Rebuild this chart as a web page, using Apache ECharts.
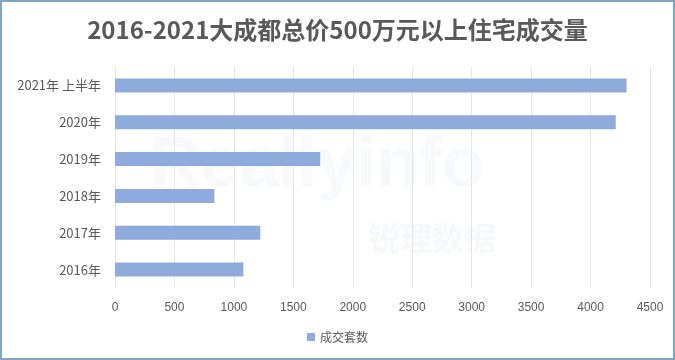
<!DOCTYPE html>
<html><head><meta charset="utf-8">
<script src="https://cdn.jsdelivr.net/npm/echarts@6/dist/echarts.min.js"></script>
<style>html,body{margin:0;padding:0;background:#fff}#c{width:675px;height:360px}</style>
</head><body><div id="c"></div>
<script>
const titleText = '2016-2021大成都总价500万元以上住宅成交量';
const categories = ['2016年', '2017年', '2018年', '2019年', '2020年', '2021年 上半年'];
const seriesName = '成交套数';
const values = [1080, 1222, 836, 1727, 4212, 4303];
const xTicks = [0, 500, 1000, 1500, 2000, 2500, 3000, 3500, 4000, 4500];

const chart = echarts.init(document.getElementById('c'));
const font = '"Microsoft YaHei","Noto Sans CJK SC",sans-serif';
chart.setOption({
  backgroundColor: '#fff',
  animation: false,
  title: {
    text: titleText, left: 'center', top: 13,
    textStyle: { color: '#595959', fontSize: 24, fontWeight: 'bold', fontFamily: font }
  },
  graphic: [
    { type: 'rect', shape: { x: 1, y: 1, width: 673, height: 358 },
      style: { fill: 'none', stroke: '#7ea5c4', lineWidth: 2 }, z: 100 },
    { type: 'text', left: 150, top: 132, z: 0,
      style: { text: 'Reallyinfo', fontSize: 70, fontWeight: 'bold', fill: 'rgba(200,205,215,0.13)', fontFamily: 'Arial' } },
    { type: 'text', left: 368, top: 222, z: 0,
      style: { text: '锐理数据', fontSize: 32, fontWeight: 'bold', fill: 'rgba(200,205,215,0.14)', fontFamily: font } }
  ],
  grid: { left: 115, right: 25, top: 67, bottom: 72, containLabel: false },
  legend: {
    data: [seriesName], bottom: 12, left: 'center', itemWidth: 8, itemHeight: 8, icon: 'rect',
    textStyle: { color: '#595959', fontSize: 12, fontFamily: font }
  },
  xAxis: {
    type: 'value', min: xTicks[0], max: xTicks[xTicks.length - 1], interval: 500,
    axisLine: { show: false }, axisTick: { show: false },
    axisLabel: { color: '#595959', fontSize: 12, margin: 14, fontFamily: 'Arial, "Liberation Sans", sans-serif',
      formatter: v => String(v) },
    splitLine: { lineStyle: { color: '#e6e6e6', width: 1 } }
  },
  yAxis: {
    type: 'category', data: categories,
    axisLine: { show: false }, axisTick: { show: false },
    axisLabel: { color: '#595959', fontSize: 13, margin: 14, fontFamily: font },
    splitLine: { show: false }
  },
  series: [{
    name: seriesName, type: 'bar', data: values, barWidth: 14,
    itemStyle: { color: '#8faadc' }
  }]
});
</script></body></html>
